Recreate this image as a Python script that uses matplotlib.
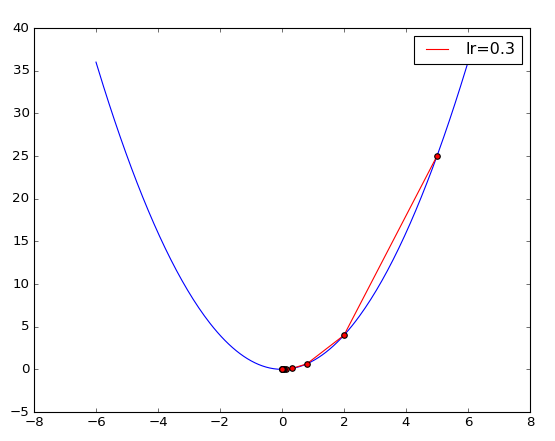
import numpy as np
import matplotlib
matplotlib.use("Agg")
import matplotlib.pyplot as plt

plt.style.use("classic")

# gradient descent iterates on f(x) = x^2, lr = 0.3, start at 5
gd_x = [5.0, 2.0, 0.8, 0.32, 0.128, 0.0512, 0.02048, 0.008192, 0.0032768, 0.00131072]
gd_y = [25.0, 4.0, 0.64, 0.1024, 0.016384, 0.00262144, 0.00041943, 0.0000671, 0.0000107, 0.0000017]

curve_x = np.linspace(-6, 6, 200)
curve_y = curve_x ** 2

fig = plt.figure(figsize=(555 / 80, 441 / 80), dpi=80)
ax = fig.add_axes([34 / 555, 29 / 441, 496 / 555, 384 / 441])

ax.plot(curve_x, curve_y, color="blue")
ax.plot(gd_x, gd_y, color="red", label="lr=0.3")
ax.scatter(gd_x, gd_y, color="red", edgecolor="black", s=25, zorder=3)

ax.set_xlim(-8, 8)
ax.set_ylim(-5, 40)
ax.legend(loc="upper right")

fig.savefig("out.png", dpi=80)
